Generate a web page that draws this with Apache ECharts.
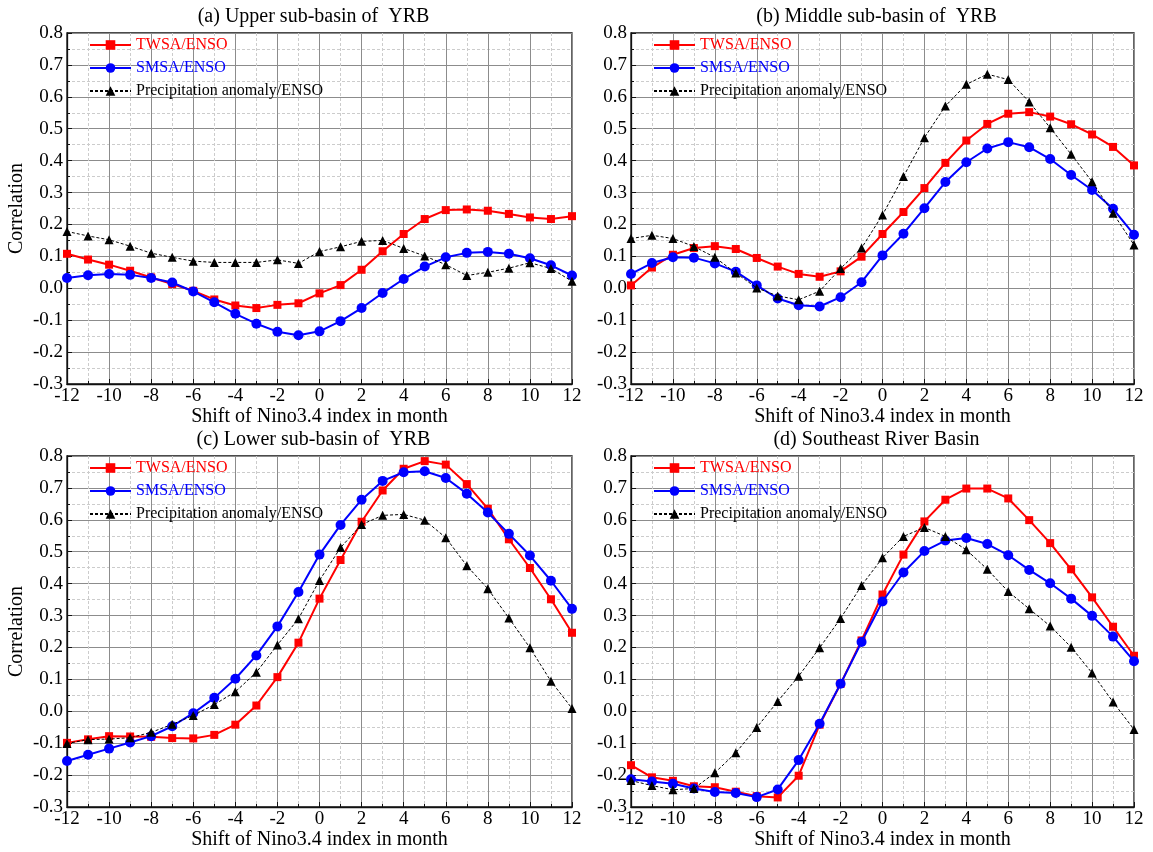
<!DOCTYPE html>
<html>
<head>
<meta charset="utf-8">
<title>Correlation with Nino3.4</title>
<script src="https://cdn.jsdelivr.net/npm/echarts@6/dist/echarts.min.js"></script>
<style>
  html, body { margin: 0; padding: 0; background: #fff; }
  #main { width: 1153px; height: 852px; }
</style>
</head>
<body>
<div id="main"></div>
<script>
// lag in months
var shifts = [-12, -11, -10, -9, -8, -7, -6, -5, -4, -3, -2, -1, 0, 1, 2, 3, 4, 5, 6, 7, 8, 9, 10, 11, 12];

var upperTwsa = [0.108, 0.090, 0.074, 0.055, 0.034, 0.013, -0.008, -0.035, -0.054, -0.062, -0.052, -0.047, -0.016, 0.010, 0.058, 0.116, 0.170, 0.217, 0.245, 0.247, 0.243, 0.233, 0.222, 0.217, 0.226];
var upperSmsa = [0.032, 0.041, 0.045, 0.042, 0.032, 0.018, -0.010, -0.044, -0.080, -0.111, -0.136, -0.147, -0.135, -0.103, -0.062, -0.015, 0.029, 0.068, 0.097, 0.111, 0.114, 0.108, 0.094, 0.072, 0.040];
var upperPrecip = [0.178, 0.164, 0.152, 0.132, 0.110, 0.097, 0.085, 0.081, 0.081, 0.081, 0.089, 0.078, 0.115, 0.130, 0.147, 0.150, 0.125, 0.101, 0.074, 0.040, 0.050, 0.063, 0.080, 0.062, 0.022];

var middleTwsa = [0.009, 0.065, 0.105, 0.126, 0.132, 0.123, 0.095, 0.068, 0.045, 0.036, 0.053, 0.099, 0.170, 0.239, 0.314, 0.393, 0.463, 0.515, 0.547, 0.552, 0.538, 0.514, 0.482, 0.443, 0.385];
var middleSmsa = [0.045, 0.079, 0.097, 0.096, 0.078, 0.052, 0.009, -0.032, -0.053, -0.057, -0.028, 0.019, 0.103, 0.171, 0.251, 0.333, 0.395, 0.438, 0.458, 0.442, 0.405, 0.355, 0.308, 0.249, 0.168];
var middlePrecip = [0.156, 0.166, 0.156, 0.131, 0.097, 0.048, 0.001, -0.024, -0.036, -0.009, 0.062, 0.126, 0.230, 0.350, 0.472, 0.571, 0.639, 0.671, 0.654, 0.584, 0.503, 0.420, 0.334, 0.235, 0.136];

var lowerTwsa = [-0.099, -0.088, -0.078, -0.079, -0.080, -0.084, -0.085, -0.074, -0.042, 0.018, 0.107, 0.215, 0.353, 0.474, 0.594, 0.692, 0.760, 0.784, 0.773, 0.712, 0.635, 0.539, 0.449, 0.351, 0.246];
var lowerSmsa = [-0.156, -0.136, -0.117, -0.098, -0.078, -0.047, -0.006, 0.042, 0.102, 0.175, 0.266, 0.374, 0.491, 0.584, 0.663, 0.722, 0.749, 0.752, 0.731, 0.682, 0.623, 0.556, 0.488, 0.409, 0.321];
var lowerPrecip = [-0.101, -0.089, -0.087, -0.083, -0.066, -0.041, -0.013, 0.021, 0.061, 0.122, 0.208, 0.290, 0.410, 0.513, 0.585, 0.614, 0.617, 0.599, 0.544, 0.456, 0.384, 0.292, 0.199, 0.094, 0.009];

var seTwsa = [-0.169, -0.207, -0.218, -0.235, -0.238, -0.252, -0.266, -0.270, -0.202, -0.042, 0.086, 0.222, 0.366, 0.491, 0.595, 0.663, 0.698, 0.698, 0.667, 0.599, 0.527, 0.445, 0.357, 0.265, 0.174];
var seSmsa = [-0.213, -0.220, -0.227, -0.242, -0.253, -0.256, -0.269, -0.245, -0.153, -0.039, 0.086, 0.217, 0.344, 0.435, 0.502, 0.535, 0.543, 0.524, 0.489, 0.443, 0.401, 0.353, 0.299, 0.234, 0.157];
var sePrecip = [-0.217, -0.233, -0.246, -0.242, -0.193, -0.130, -0.051, 0.031, 0.110, 0.199, 0.291, 0.394, 0.481, 0.548, 0.576, 0.548, 0.506, 0.445, 0.375, 0.321, 0.267, 0.201, 0.120, 0.029, -0.057];

var panelTitles = ['(a) Upper sub-basin of  YRB', '(b) Middle sub-basin of  YRB', '(c) Lower sub-basin of  YRB', '(d) Southeast River Basin'];
var seriesNames = ['TWSA/ENSO', 'SMSA/ENSO', 'Precipitation anomaly/ENSO'];
var panelData = [
  [upperTwsa, upperSmsa, upperPrecip],
  [middleTwsa, middleSmsa, middlePrecip],
  [lowerTwsa, lowerSmsa, lowerPrecip],
  [seTwsa, seSmsa, sePrecip]
];
var xName = 'Shift of Nino3.4 index in month';
var yName = 'Correlation';

var font = '"Liberation Serif", "Times New Roman", serif';
// plot boxes (px)
var boxes = [
  {left: 67, top: 33, width: 505, height: 351},
  {left: 631, top: 33, width: 503, height: 351},
  {left: 67, top: 456, width: 505, height: 351},
  {left: 631, top: 456, width: 503, height: 351}
];
var styles = [
  {color: '#ff0000', symbol: 'rect', size: 8, width: 2, type: 'solid'},
  {color: '#0000ff', symbol: 'circle', size: 10, width: 2, type: 'solid'},
  {color: '#000000', symbol: 'triangle', size: 9, width: 1, type: [3, 2]}
];

function pairs(vals) {
  var out = [];
  for (var i = 0; i < shifts.length; i++) {
    out.push([shifts[i], vals[i]]);
  }
  return out;
}

var grids = [], xAxes = [], yAxes = [], series = [], legends = [], graphics = [];

for (var p = 0; p < 4; p++) {
  var b = boxes[p];
  grids.push({
    left: b.left, top: b.top, width: b.width, height: b.height,
    show: true, borderColor: '#111', borderWidth: 1.3, backgroundColor: 'transparent'
  });
  xAxes.push({
    type: 'value', gridIndex: p, min: -12, max: 12, interval: 2,
    name: xName, nameLocation: 'middle', nameGap: 22,
    nameTextStyle: {fontFamily: font, fontSize: 20, color: '#000'},
    axisLine: {onZero: false, lineStyle: {color: '#111', width: 1.3}},
    axisTick: {inside: true, length: 5, lineStyle: {color: '#111'}},
    minorTick: {show: true, splitNumber: 2, length: 3, lineStyle: {color: '#111'}},
    axisLabel: {fontFamily: font, fontSize: 19, color: '#000', margin: 3},
    splitLine: {show: true, lineStyle: {color: '#8c8c8c', width: 1}},
    minorSplitLine: {show: true, lineStyle: {color: '#cccccc', type: [3, 2], width: 1}}
  });
  yAxes.push({
    type: 'value', gridIndex: p, min: -0.3, max: 0.8, interval: 0.1,
    name: (p % 2 === 0) ? yName : '', nameLocation: 'middle', nameGap: 40,
    nameTextStyle: {fontFamily: font, fontSize: 20, color: '#000'},
    axisLine: {onZero: false, lineStyle: {color: '#111', width: 1.3}},
    axisTick: {inside: true, length: 5, lineStyle: {color: '#111'}},
    minorTick: {show: true, splitNumber: 2, length: 3, lineStyle: {color: '#111'}},
    axisLabel: {
      fontFamily: font, fontSize: 19, color: '#000', margin: 4,
      formatter: function (v) { return (Math.round(v * 10) / 10).toFixed(1); }
    },
    splitLine: {show: true, lineStyle: {color: '#8c8c8c', width: 1}},
    minorSplitLine: {show: true, lineStyle: {color: '#cccccc', type: [3, 2], width: 1}}
  });
  for (var s = 0; s < 3; s++) {
    var st = styles[s];
    series.push({
      name: seriesNames[s], type: 'line', xAxisIndex: p, yAxisIndex: p,
      data: pairs(panelData[p][s]),
      symbol: st.symbol, symbolSize: st.size, showAllSymbol: true,
      lineStyle: {color: st.color, width: st.width, type: st.type},
      itemStyle: {color: st.color},
      z: 3 + s, animation: false
    });
  }
  legends.push({
    orient: 'vertical', left: b.left + 22, top: b.top + 4, padding: 0,
    itemWidth: 41, itemHeight: 12, itemGap: 7,
    selectedMode: false,
    textStyle: {fontFamily: font, fontSize: 16},
    data: [
      {name: seriesNames[0], textStyle: {color: '#ff0000'}},
      {name: seriesNames[1], textStyle: {color: '#0000ff'}},
      {name: seriesNames[2], textStyle: {color: '#000000'}}
    ]
  });
  graphics.push({
    type: 'text', x: b.left + b.width / 2 - 6, y: b.top - 16,
    style: {
      text: panelTitles[p], font: '20px ' + font, fill: '#000',
      align: 'center', verticalAlign: 'middle', textAlign: 'center', textVerticalAlign: 'middle'
    }
  });
}

var chart = echarts.init(document.getElementById('main'));
chart.setOption({
  animation: false,
  backgroundColor: '#fff',
  textStyle: {fontFamily: font},
  grid: grids,
  xAxis: xAxes,
  yAxis: yAxes,
  legend: legends,
  graphic: graphics,
  series: series
});
</script>
</body>
</html>
